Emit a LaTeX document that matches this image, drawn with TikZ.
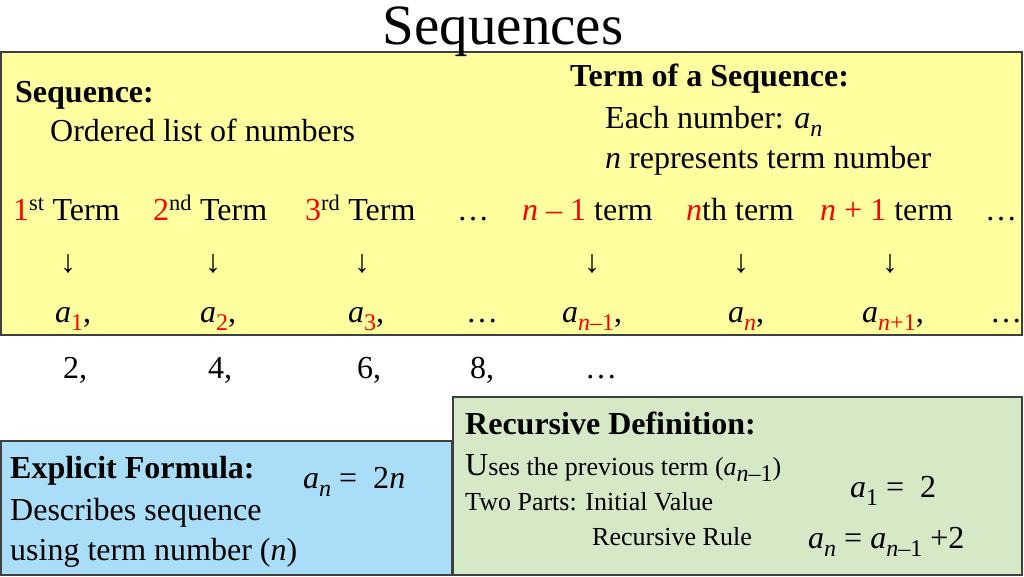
\documentclass[tikz,border=0pt]{standalone}
\usepackage{fontspec}
\setmainfont{Liberation Serif}
\usetikzlibrary{positioning}
\definecolor{panelYellow}{HTML}{FFFF9F}
\definecolor{panelGreen}{HTML}{D6E9C6}
\definecolor{panelBlue}{HTML}{A9DDF8}
\definecolor{edgeGray}{HTML}{3F3F3F}
\tikzstyle{panel}=[draw=edgeGray, line width=1.2pt]
\tikzstyle{txt}=[anchor=base west, inner sep=0pt, font=\fontsize{32}{36}\selectfont]
\tikzstyle{small}=[txt, font=\fontsize{26}{30}\selectfont]
\tikzstyle{arr}=[anchor=base, inner sep=0pt, font=\fontsize{32}{36}\selectfont]
% a term with red subscript
\newcommand{\aterm}[1]{\textit{a}\raisebox{-0.25em}{\fontsize{24}{26}\selectfont\color{red}#1}}
\newcommand{\anrm}[1]{\textit{a}\raisebox{-0.25em}{\fontsize{24}{26}\selectfont #1}}
\begin{document}
\begin{tikzpicture}[x=1pt,y=-1pt]
  \useasboundingbox (0,0) rectangle (1024,576);

  % Panels
  \path[panel, fill=panelYellow] (1,52) rectangle (1022,335);
  \path[panel, fill=panelGreen] (453,397) rectangle (1022,575);
  \path[panel, fill=panelBlue] (1,441) rectangle (452,575);

  % Title
  \node (title) [anchor=base, inner sep=0pt, font=\fontsize{57}{60}\selectfont] at (503,44) {Sequences};

  % Top text
  \node (seq) [txt] at (15,102) {\textbf{Sequence:}};
  \node (seqd) [txt] at (50,141) {Ordered list of numbers};
  \node (term) [txt] at (570,86) {\textbf{Term of a Sequence:}};
  \node (termd) [txt] at (605,128) {Each number: \anrm{\textit{n}}};
  \node (termn) [txt] at (605,168) {\textit{n} represents term number};

  % Term labels
  \node (t1) [txt] at (13,220) {{\color{red}1}\textsuperscript{st} Term};
  \node (t2) [txt] at (153,220) {{\color{red}2}\textsuperscript{nd} Term};
  \node (t3) [txt] at (305,220) {{\color{red}3}\textsuperscript{rd} Term};
  \node (t4) [txt] at (457,220) {…};
  \node (t5) [txt] at (522,220) {{\color{red}\textit{n} – 1} term};
  \node (t6) [txt] at (686,220) {{\color{red}\textit{n}}th term};
  \node (t7) [txt] at (820,220) {{\color{red}\textit{n} + 1} term};
  \node (t8) [txt] at (985,220) {…};

  % Arrows
  \foreach \x/\i in {68/1,213/2,362/3,592/5,741/6,890/7}
    \node (d\i) [arr] at (\x,272) {↓};

  % Terms
  \node (a1) [txt] at (55,322) {\aterm{1},};
  \node (a2) [txt] at (200,322) {\aterm{2},};
  \node (a3) [txt] at (348,322) {\aterm{3},};
  \node (a4) [txt] at (466,322) {…};
  \node (a5) [txt] at (562,322) {\aterm{\textit{n}–1},};
  \node (a6) [txt] at (728,322) {\aterm{\textit{n}},};
  \node (a7) [txt] at (862,322) {\aterm{\textit{n}+1},};
  \node (a8) [txt] at (990,322) {…};

  % Values
  \node (v1) [txt] at (63,378) {2,};
  \node (v2) [txt] at (208,378) {4,};
  \node (v3) [txt] at (357,378) {6,};
  \node (v4) [txt] at (470,378) {8,};
  \node (v5) [txt] at (585,378) {…};

  % Recursive definition
  \node (rec) [txt] at (465,434) {\textbf{Recursive Definition:}};
  \node (recu) [small] at (465,475) {{\fontsize{32}{36}\selectfont U}ses the previous term (\anrm{\textit{n}–1})};
  \node (recp) [small] at (465,510) {Two Parts: Initial Value};
  \node (recr) [small] at (592,545) {Recursive Rule};
  \node (reca) [txt] at (850,497) {\anrm{1} =\enspace 2};
  \node (recb) [txt] at (808,548) {\anrm{\textit{n}} = \anrm{\textit{n}–1} +2};

  % Explicit formula
  \node (exp) [txt] at (10,478) {\textbf{Explicit Formula:}};
  \node (expf) [txt] at (303,488) {\anrm{\textit{n}} =\enspace 2\textit{n}};
  \node (expd) [txt] at (10,520) {Describes sequence};
  \node (expu) [txt] at (10,560) {using term number (\textit{n})};
\end{tikzpicture}
\end{document}
